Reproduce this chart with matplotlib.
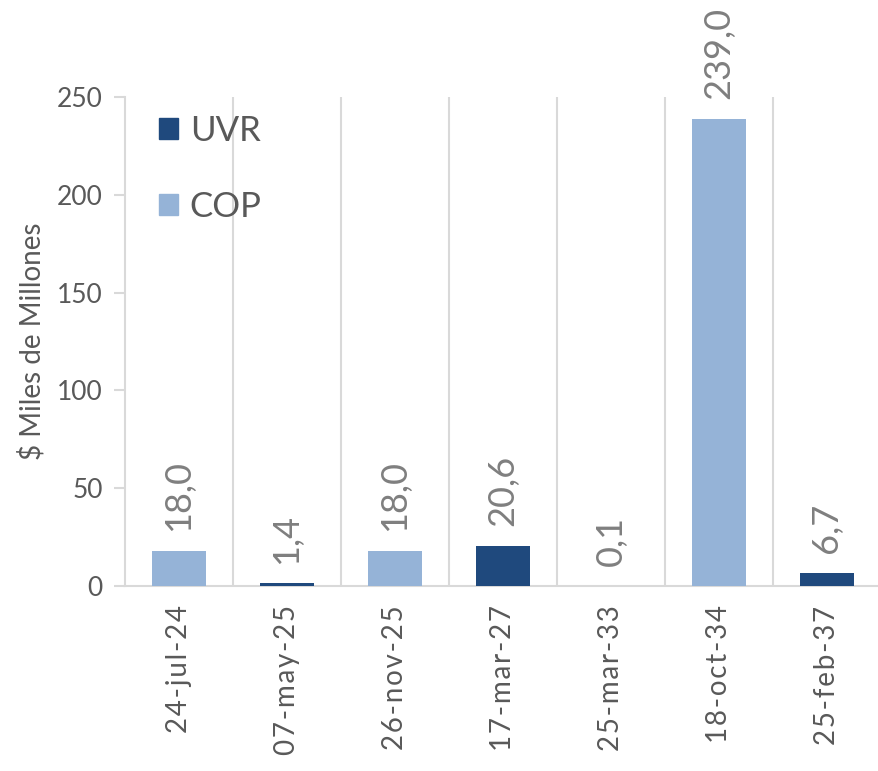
import matplotlib
matplotlib.use("Agg")
import matplotlib.pyplot as plt
from matplotlib.patches import Patch

categories = ["24-jul-24", "07-may-25", "26-nov-25", "17-mar-27", "25-mar-33", "18-oct-34", "25-feb-37"]
values = [18.0, 1.4, 18.0, 20.6, 0.1, 239.0, 6.7]
series = ["COP", "UVR", "COP", "UVR", "UVR", "COP", "UVR"]
yticks = [0, 50, 100, 150, 200, 250]

colors = {"UVR": "#1F497D", "COP": "#95B3D7"}
plt.rcParams['font.family'] = ['Lato', 'DejaVu Sans']

fig = plt.figure(figsize=(8.79, 7.71), dpi=100)
ax = fig.add_axes([125/879, 1-586/771, (881-125)/879, (586-97)/771])

x = list(range(len(categories)))
ax.bar(x, values, width=0.5, color=[colors[s] for s in series], zorder=3)

for xi, v in zip(x, values):
    ax.annotate(f"{v:.1f}".replace(".", ","), (xi, v), xytext=(0, 14), textcoords="offset points",
                rotation=90, ha="center", va="bottom", fontsize=26, color="#7F7F7F")

def spaced(s):
    return "\u200a".join(s)

ax.set_xlim(-0.5, len(categories) - 0.5)
ax.set_ylim(0, 250)
ax.set_yticks(yticks)
ax.set_yticklabels([str(t) for t in yticks], fontsize=19, color="#595959")
ax.set_xticks(x)
ax.set_xticklabels([spaced(c) for c in categories], rotation=90, fontsize=20, color="#595959")
ax.tick_params(axis="x", length=0, pad=14)
ax.tick_params(axis="y", length=8, width=1.5, color="#D9D9D9", pad=8)

for b in [i + 0.5 for i in range(len(categories) - 1)]:
    ax.axvline(b, color="#D9D9D9", lw=1.5, zorder=1)

for s in ["top", "right"]:
    ax.spines[s].set_visible(False)
for s in ["left", "bottom"]:
    ax.spines[s].set_color("#D9D9D9")
    ax.spines[s].set_linewidth(1.5)

ax.set_ylabel("$ Miles de Millones", fontsize=20, color="#595959", labelpad=8)

handles = [Patch(color=colors["UVR"], label="UVR"), Patch(color=colors["COP"], label="COP")]
leg = ax.legend(handles=handles, loc="upper left", bbox_to_anchor=(0.003, 1.028), frameon=False,
                fontsize=25, labelspacing=1.27, handlelength=0.55, handleheight=0.55, handletextpad=0.35,
                labelcolor="#595959")

fig.savefig("out.png", dpi=100)
